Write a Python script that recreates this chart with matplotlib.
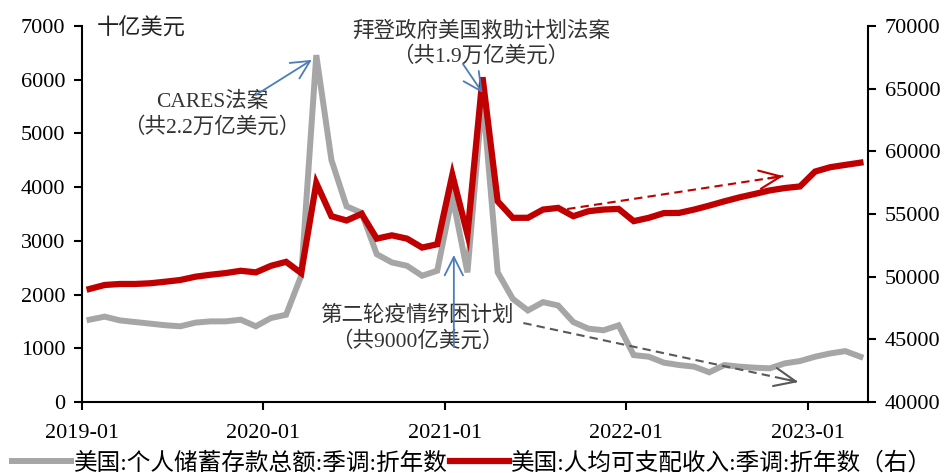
# 美国个人储蓄存款与人均可支配收入
import numpy as np
import pandas as pd
import matplotlib.pyplot as plt

plt.rcParams['font.family'] = ['Liberation Serif', 'Noto Sans CJK SC']
plt.rcParams['axes.unicode_minus'] = False

months = pd.date_range('2019-01-01', periods=52, freq='MS').strftime('%Y-%m').tolist()

# 十亿美元 (左轴)
savings = [1533, 1590, 1520, 1490, 1460, 1430, 1410, 1478, 1502, 1502, 1533, 1410,
           1564, 1625, 2350, 6459, 4507, 3644, 3522, 2752, 2599, 2536, 2351, 2444,
           3829, 2414, 5707, 2414, 1921, 1705, 1860, 1798, 1490, 1367, 1336, 1428,
           874, 844, 733, 689, 659, 554, 689, 659, 640, 628, 720, 763,
           844, 905, 948, 844]
# 美元 (右轴)
income = [49024, 49340, 49420, 49420, 49475, 49600, 49737, 50000, 50157, 50290, 50474, 50347,
          50869, 51186, 50290, 57471, 54827, 54486, 55017, 53037, 53300, 53037, 52325, 52586,
          58128, 53378, 65909, 56015, 54700, 54700, 55357, 55490, 54827, 55223, 55357, 55410,
          54432, 54700, 55077, 55090, 55357, 55674, 56015, 56331, 56600, 56885, 57075, 57200,
          58389, 58736, 58920, 59100]

label_sav = '美国:个人储蓄存款总额:季调:折年数'
label_inc = '美国:人均可支配收入:季调:折年数（右）'

gray = '#A6A6A6'
red = '#C00000'
blue = '#4A7EBB'

fig = plt.figure(figsize=(9.45, 4.73), dpi=100)
ax = fig.add_axes([0.0868, 0.150, 0.8317, 0.795])
ax2 = ax.twinx()

x = np.arange(len(months)) + 0.5
l1, = ax.plot(x, savings, color=gray, lw=4.3, solid_joinstyle='miter')
l2, = ax2.plot(x, income, color=red, lw=4.5, solid_joinstyle='miter')

ax.set_xlim(0, len(months))
ax.set_ylim(0, 7000)
ax2.set_ylim(40000, 70000)
ax.set_yticks(np.arange(0, 7001, 1000))
ax2.set_yticks(np.arange(40000, 70001, 5000))
tick_pos = np.arange(0, len(months), 12)
ax.set_xticks(tick_pos)
ax.set_xticklabels([months[i] for i in tick_pos])

for a in (ax, ax2):
    a.spines['top'].set_visible(False)
    for s in ('left', 'right', 'bottom'):
        a.spines[s].set_linewidth(1.5)
    a.tick_params(direction='out', length=6, width=1.5, labelsize=16, pad=6)
ax.tick_params(axis='x', pad=10)
ax.spines['right'].set_visible(False)
ax2.spines['left'].set_visible(False)
ax2.spines['bottom'].set_visible(False)

fig.text(97 / 945, 1 - 29 / 473, '十亿美元', fontsize=16, va='center', ha='left',
         color='#222222')

txt = dict(fontsize=15.5, color='#333333', ha='center', va='center', linespacing=1.3)
ax2.text(8.6, 5350, 'CARES法案\n（共2.2万亿美元）', transform=ax.transData, **txt)
ax2.text(26.4, 6667, '拜登政府美国救助计划法案\n（共1.9万亿美元）', transform=ax.transData, **txt)
ax2.text(22.2, 1360, '第二轮疫情纾困计划\n（共9000亿美元）', transform=ax.transData, **txt)

arrow = dict(arrowstyle='->,head_length=0.6,head_width=0.3', color=blue, lw=1.3,
             shrinkA=0, shrinkB=0, mutation_scale=22)
ax2.annotate('', xy=(15.2, 6369), xytext=(11.5, 5717), xycoords=ax.transData,
             textcoords=ax.transData, arrowprops=arrow)
ax2.annotate('', xy=(26.5, 5754), xytext=(25.2, 6294), xycoords=ax.transData,
             textcoords=ax.transData, arrowprops=arrow)
ax2.annotate('', xy=(24.6, 2737), xytext=(24.6, 1024), xycoords=ax.transData,
             textcoords=ax.transData, arrowprops=arrow)

# 趋势虚线
ax2.plot([32.1, 46.4], [55399, 58032], color=red, lw=1.5, ls=(0, (4, 2.5)))
ax2.annotate('', xy=(46.4, 58032), xytext=(45.4, 57848),
             arrowprops=dict(arrowstyle='->,head_length=0.7,head_width=0.3', color=red,
                             lw=1.5, shrinkA=0, shrinkB=0, mutation_scale=22))
ax2.plot([29.2, 47.4], [1471, 372], color='#595959', lw=1.5, ls=(0, (4, 2.5)),
         transform=ax.transData)
ax2.annotate('', xy=(47.4, 372), xytext=(46.4, 432), xycoords=ax.transData,
             textcoords=ax.transData,
             arrowprops=dict(arrowstyle='->,head_length=0.7,head_width=0.3', color='#595959',
                             lw=1.5, shrinkA=0, shrinkB=0, mutation_scale=22))

fig.legend([l1, l2], [label_sav, label_inc], loc='lower center', bbox_to_anchor=(0.5, -0.048),
           ncol=2, frameon=False, fontsize=17, handlelength=2.5, handletextpad=0.1,
           columnspacing=0.1)

fig.savefig('out.png', dpi=100)
